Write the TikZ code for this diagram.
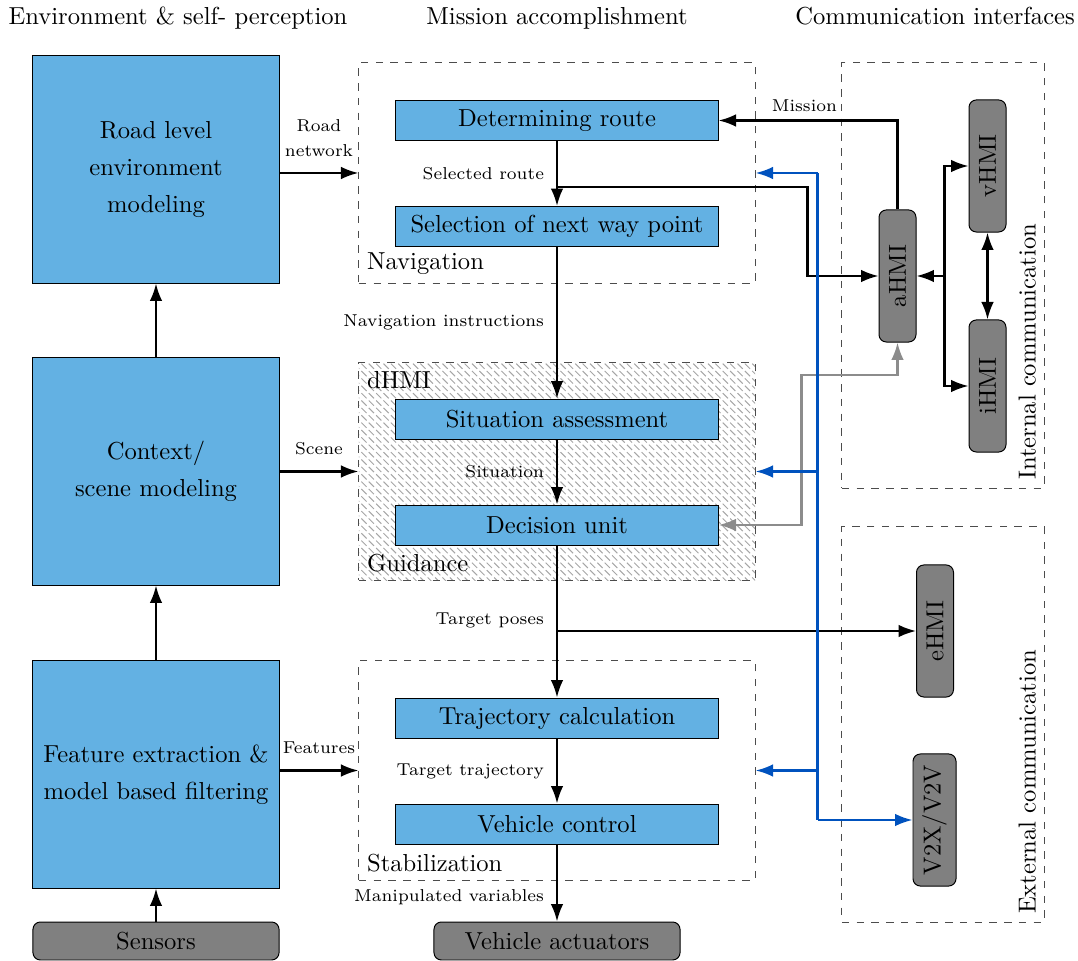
\documentclass[tikz,border=0pt]{standalone}
\usepackage{tikz}
\usetikzlibrary{arrows.meta}
\usetikzlibrary{calc,patterns,positioning}

\definecolor{boxblue}{RGB}{99,177,227}
\definecolor{hmigray}{RGB}{128,128,128}
\definecolor{busblue}{RGB}{0,82,190}
\definecolor{linkgray}{RGB}{140,140,140}

\tikzset{
  blkbox/.style={draw, fill=boxblue, minimum width=4.605cm, minimum height=0.572cm},
  bigbox/.style={draw, fill=boxblue, minimum width=3.518cm, minimum height=3.246cm, align=center, font=\linespread{1.25}\selectfont},
  hmibox/.style={draw, fill=hmigray, rounded corners=3pt, minimum width=0.529cm, minimum height=1.888cm},
  endbox/.style={draw, fill=hmigray, rounded corners=3pt, minimum width=3.518cm, minimum height=0.543cm},
  grpbox/.style={draw=black!70, dashed, minimum width=5.663cm},
  combox/.style={draw=black!70, dashed, minimum width=2.889cm},
  arr/.style={line width=0.9pt, ->},
  lbl/.style={font=\scriptsize},
}

\begin{document}
\begin{tikzpicture}[x=0.0143cm, y=-0.0143cm, >={Latex[length=2.5mm, width=1.8mm]}]
    \useasboundingbox (0,0) rectangle (1078,961);

    \node [anchor=base] at (178,25) {Environment \& self- perception};
    \node [anchor=base] at (557,25) {Mission accomplishment};
    \node [anchor=base] at (935,25) {Communication interfaces};

    \node [grpbox, minimum height=3.146cm] (nav) at (557,173) {};
    \node [grpbox, minimum height=3.103cm, pattern=north west lines, pattern color=black!35] (guid) at (557,471.5) {};
    \node [grpbox, minimum height=3.132cm] (stab) at (557,770.5) {};
    \node [combox, minimum height=6.078cm] (intc) at (943,275.5) {};
    \node [combox, minimum height=5.649cm] (extc) at (943,724.5) {};

    \node [anchor=south west] at (nav.south west) {Navigation};
    \node [anchor=north west] at (guid.north west) {dHMI};
    \node [anchor=south west] at (guid.south west) {Guidance};
    \node [anchor=south west] at (stab.south west) {Stabilization};
    \node [rotate=90, anchor=south west] at (intc.south east) {Internal communication};
    \node [rotate=90, anchor=south west] at (extc.south east) {External communication};

    \node [bigbox] (road) at (156,169.5) {Road level\\environment\\modeling};
    \node [bigbox] (ctx) at (156,471.5) {Context/\\scene modeling};
    \node [bigbox] (feat) at (156,774.5) {Feature extraction \&\\model based filtering};
    \node [endbox] (sens) at (156,941) {Sensors};

    \node [blkbox] (route) at (557,120.5) {Determining route};
    \node [blkbox] (select) at (557,226.5) {Selection of next way point};
    \node [blkbox] (sit) at (557,419) {Situation assessment};
    \node [blkbox] (dec) at (557,525) {Decision unit};
    \node [blkbox] (traj) at (557,718) {Trajectory calculation};
    \node [blkbox] (ctrl) at (557,824) {Vehicle control};
    \node [endbox] (act) at (557,941) {Vehicle actuators};

    \node [hmibox] (ahmi) at (897.5,276) {\rotatebox{90}{aHMI}};
    \node [hmibox] (vhmi) at (987.5,166) {\rotatebox{90}{vHMI}};
    \node [hmibox] (ihmi) at (987.5,386) {\rotatebox{90}{iHMI}};
    \node [hmibox] (ehmi) at (935,631) {\rotatebox{90}{eHMI}};
    \node [hmibox, minimum width=0.615cm] (v2x) at (934.5,820) {\rotatebox{90}{V2X/V2V}};

    \draw [arr] (sens) -- (feat);
    \draw [arr] (feat) -- (ctx);
    \draw [arr] (ctx) -- (road);
    \draw [arr] (road.east |- nav.west) -- node [lbl, above=3pt, align=center] {Road\\[2pt]network} (nav.west);
    \draw [arr] (ctx.east |- guid.west) -- node [lbl, above=3pt] {Scene} (guid.west);
    \draw [arr] (feat.east |- stab.west) -- node [lbl, above=3pt] {Features} (stab.west);

    \draw [arr] (route) -- node [lbl, left=1.5pt] {Selected route} (select);
    \draw [arr] (select) -- node [lbl, left=1.5pt] {Navigation instructions} (sit);
    \draw [arr] (sit) -- node [lbl, left=1.5pt] {Situation} (dec);
    \draw [arr] (dec) -- node [lbl, left=1.5pt, pos=0.49] {Target poses} (traj);
    \draw [arr] (traj) -- node [lbl, left=1.5pt] {Target trajectory} (ctrl);
    \draw [arr] (ctrl) -- node [lbl, left=1.5pt, pos=0.68] {Manipulated variables} (act);

    \coordinate (sr) at ($(route.south)!0.71!(select.north)$);
    \coordinate (tp) at (dec.south |- ehmi.west);
    \coordinate (gk) at ($(dec.east)+(83,-150)$);
    \coordinate (jn) at ($(ahmi.east)+(28,0)$);
    \coordinate (bus) at ($(nav.east)+(62,0)$);

    \draw [line width=0.9pt, linkgray, <->] (dec.east) -| (gk) -| (ahmi.south);
    \draw [arr] (ahmi.north) |- node [lbl, above, pos=0.76] {Mission} (route.east);
    \draw [arr] (sr) -| ($(ahmi.west)+(-71,0)$) -- (ahmi.west);
    \draw [arr] (jn) -- (ahmi.east);
    \draw [arr] (jn) |- (vhmi.west);
    \draw [arr] (jn) |- (ihmi.west);
    \draw [line width=0.9pt, <->] (vhmi) -- (ihmi);
    \draw [arr] (tp) -- (ehmi.west);

    \draw [line width=0.9pt, busblue] (bus) -- (bus |- v2x.west);
    \draw [arr, busblue] (bus) -- (nav.east);
    \draw [arr, busblue] (bus |- guid.east) -- (guid.east);
    \draw [arr, busblue] (bus |- stab.east) -- (stab.east);
    \draw [arr, busblue] (bus |- v2x.west) -- (v2x.west);
\end{tikzpicture}
\end{document}
